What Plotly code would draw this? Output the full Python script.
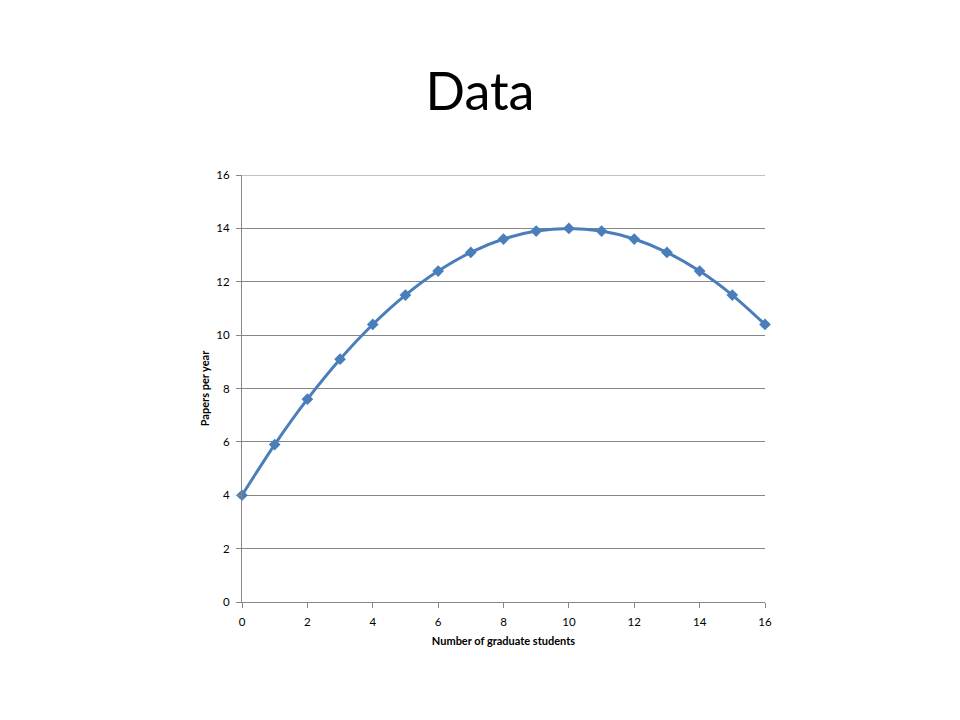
import plotly.graph_objects as go

students = list(range(0, 17))
papers = [4.0, 5.9, 7.6, 9.1, 10.4, 11.5, 12.4, 13.1, 13.6, 13.9, 14.0,
          13.9, 13.6, 13.1, 12.4, 11.5, 10.4]
x_ticks = [0, 2, 4, 6, 8, 10, 12, 14, 16]
y_ticks = [0, 2, 4, 6, 8, 10, 12, 14, 16]

line_color = "#4a7ebb"
grid_color = "#868686"

fig = go.Figure()
fig.add_trace(go.Scatter(
    x=students, y=papers, mode="lines+markers",
    line=dict(color=line_color, width=3, shape="spline", smoothing=0.8),
    marker=dict(symbol="diamond", size=9, color=line_color),
    showlegend=False, cliponaxis=False,
))

# top gridline at the upper end of the range
fig.add_shape(type="line", xref="paper", x0=0, x1=1, yref="y", y0=y_ticks[-1], y1=y_ticks[-1],
              line=dict(color=grid_color, width=1), layer="below")

fig.update_layout(
    width=960, height=720,
    paper_bgcolor="white", plot_bgcolor="white",
    margin=dict(l=234, r=203, t=167, b=126),
    font=dict(family="Lato, Calibri, Noto Sans, sans-serif", color="#000000", size=11),
    title=dict(text="Data", x=472 / 960, xanchor="center", y=1 - 84 / 720, yanchor="middle",
               font=dict(size=52, family="Lato, Noto Sans, sans-serif", color="#000000")),
    xaxis=dict(
        range=[0, 16], tickvals=x_ticks, ticktext=[str(v) for v in x_ticks],
        showgrid=False, zeroline=False,
        showline=True, linecolor=grid_color, linewidth=1,
        ticks="outside", ticklen=5, tickcolor=grid_color, ticklabelstandoff=4,
        title=dict(text="<b>Number of graduate students</b>", font=dict(size=11), standoff=10),
        tickfont=dict(size=11.5),
    ),
    yaxis=dict(
        range=[0, 16], tickvals=y_ticks, ticktext=[str(v) for v in y_ticks],
        showgrid=True, gridcolor=grid_color, gridwidth=1, zeroline=False,
        showline=True, linecolor=grid_color, linewidth=1,
        ticks="outside", ticklen=5, tickcolor=grid_color, ticklabelstandoff=4,
        title=dict(text="<b>Papers per year</b>", font=dict(size=11), standoff=4),
        tickfont=dict(size=11.5),
    ),
)

fig.write_html("out.html")
